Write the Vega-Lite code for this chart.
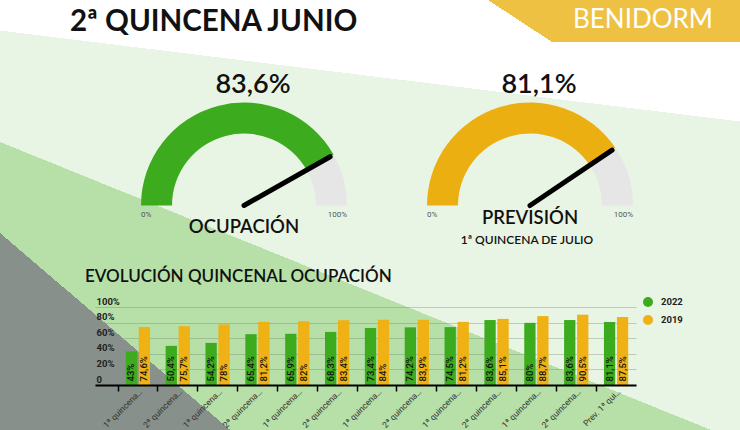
{
  "$schema": "https://vega.github.io/schema/vega-lite/v6.json",
  "padding": 0,
  "spacing": 0,
  "bounds": "flush",
  "background": "#e9f5e4",
  "resolve": {"scale": {"color": "independent", "x": "independent", "y": "independent", "theta": "independent"}, "legend": {"color": "independent"}},
  "config": {
    "view": {"stroke": null},
    "font": "Roboto",
    "locale": {"number": {"decimal": ",", "thousands": ".", "grouping": [3], "currency": ["", " €"]}}
  },
  "datasets": {
    "medidores": [
      {"indicador": "OCUPACIÓN", "valor": 0.836, "subtitulo": ""},
      {"indicador": "PREVISIÓN", "valor": 0.811, "subtitulo": "1ª QUINCENA DE JULIO"}
    ],
    "tramos": [
      {"indicador": "OCUPACIÓN", "tramo": "OCUPACIÓN", "desde": 0, "hasta": 0.836},
      {"indicador": "OCUPACIÓN", "tramo": "resto", "desde": 0.836, "hasta": 1},
      {"indicador": "PREVISIÓN", "tramo": "PREVISIÓN", "desde": 0, "hasta": 0.811},
      {"indicador": "PREVISIÓN", "tramo": "resto", "desde": 0.811, "hasta": 1}
    ],
    "quincenas": [
      {"quincena": "1ª quincena de enero", "serie": "2022", "ocupacion": 0.43},
      {"quincena": "1ª quincena de enero", "serie": "2019", "ocupacion": 0.746},
      {"quincena": "2ª quincena de enero", "serie": "2022", "ocupacion": 0.504},
      {"quincena": "2ª quincena de enero", "serie": "2019", "ocupacion": 0.757},
      {"quincena": "1ª quincena de febrero", "serie": "2022", "ocupacion": 0.542},
      {"quincena": "1ª quincena de febrero", "serie": "2019", "ocupacion": 0.78},
      {"quincena": "2ª quincena de febrero", "serie": "2022", "ocupacion": 0.654},
      {"quincena": "2ª quincena de febrero", "serie": "2019", "ocupacion": 0.812},
      {"quincena": "1ª quincena de marzo", "serie": "2022", "ocupacion": 0.659},
      {"quincena": "1ª quincena de marzo", "serie": "2019", "ocupacion": 0.82},
      {"quincena": "2ª quincena de marzo", "serie": "2022", "ocupacion": 0.683},
      {"quincena": "2ª quincena de marzo", "serie": "2019", "ocupacion": 0.834},
      {"quincena": "1ª quincena de abril", "serie": "2022", "ocupacion": 0.734},
      {"quincena": "1ª quincena de abril", "serie": "2019", "ocupacion": 0.84},
      {"quincena": "2ª quincena de abril", "serie": "2022", "ocupacion": 0.742},
      {"quincena": "2ª quincena de abril", "serie": "2019", "ocupacion": 0.839},
      {"quincena": "1ª quincena de mayo", "serie": "2022", "ocupacion": 0.745},
      {"quincena": "1ª quincena de mayo", "serie": "2019", "ocupacion": 0.812},
      {"quincena": "2ª quincena de mayo", "serie": "2022", "ocupacion": 0.836},
      {"quincena": "2ª quincena de mayo", "serie": "2019", "ocupacion": 0.851},
      {"quincena": "1ª quincena de junio", "serie": "2022", "ocupacion": 0.80},
      {"quincena": "1ª quincena de junio", "serie": "2019", "ocupacion": 0.887},
      {"quincena": "2ª quincena de junio", "serie": "2022", "ocupacion": 0.836},
      {"quincena": "2ª quincena de junio", "serie": "2019", "ocupacion": 0.905},
      {"quincena": "Prev. 1ª quincena de julio", "serie": "2022", "ocupacion": 0.811},
      {"quincena": "Prev. 1ª quincena de julio", "serie": "2019", "ocupacion": 0.875}
    ]
  },
  "vconcat": [
    {
      "width": 740,
      "height": 250,
      "view": {
        "stroke": null,
        "fill": {"gradient": "linear", "x1": 0.682, "y1": -0.196, "x2": 0.318, "y2": 0.804,
          "stops": [{"offset": 0, "color": "#ffffff"}, {"offset": 0.5, "color": "#ffffff"}, {"offset": 0.5, "color": "#e9f5e4"}, {"offset": 1, "color": "#e9f5e4"}]}
      },
      "layer": [
        {
          "data": {"values": [{}]},
          "mark": {"type": "rect", "fill": {"gradient": "linear", "x1": 0.6596, "y1": 0.6276, "x2": -0.0596, "y2": 1.2276,
            "stops": [{"offset": 0, "color": "rgba(182,224,168,0)"}, {"offset": 0.5, "color": "rgba(182,224,168,0)"}, {"offset": 0.5, "color": "#b6e0a8"}, {"offset": 1, "color": "#b6e0a8"}]}},
          "encoding": {}
        },
        {
          "data": {"values": [{}]},
          "mark": {"type": "rect", "fill": {"gradient": "linear", "x1": 0.2734, "y1": 0.8827, "x2": -0.2334, "y2": 1.0827,
            "stops": [{"offset": 0, "color": "rgba(135,144,138,0)"}, {"offset": 0.5, "color": "rgba(135,144,138,0)"}, {"offset": 0.5, "color": "#87908a"}, {"offset": 1, "color": "#87908a"}]}},
          "encoding": {}
        },
        {
          "data": {"values": [{}]},
          "mark": {"type": "rect", "x": 488, "x2": 740, "y": 0, "y2": 42, "fill": {"gradient": "linear", "x1": 0.027, "y1": 0.5254, "x2": 0.227, "y2": 0.4746,
            "stops": [{"offset": 0, "color": "rgba(239,193,67,0)"}, {"offset": 0.5, "color": "rgba(239,193,67,0)"}, {"offset": 0.5, "color": "#efc143"}, {"offset": 1, "color": "#efc143"}]}},
          "encoding": {}
        },
        {
          "data": {"values": [{"t": "2ª QUINCENA JUNIO"}]},
          "mark": {"type": "text", "x": 70, "y": 30.5, "align": "left", "baseline": "alphabetic", "font": "Lato", "fontSize": 29.5, "fontWeight": "bold", "color": "#111111"},
          "encoding": {"text": {"field": "t"}}
        },
        {
          "data": {"values": [{"t": "BENIDORM"}]},
          "mark": {"type": "text", "x": 573, "y": 28, "align": "left", "baseline": "alphabetic", "font": "Lato", "fontSize": 26, "fontWeight": "normal", "color": "#ffffff"},
          "encoding": {"text": {"field": "t"}}
        },
        {
          "data": {"name": "tramos"},
          "mark": {"type": "arc", "y": 205.5, "radius": 103, "radius2": 72},
          "encoding": {
            "x": {"field": "indicador", "type": "nominal", "scale": {"type": "point", "domain": ["OCUPACIÓN", "PREVISIÓN"], "range": [244, 530], "padding": 0}, "axis": null},
            "theta": {"field": "desde", "type": "quantitative", "scale": {"domain": [0, 1], "range": [-1.5708, 1.5708]}, "stack": null},
            "theta2": {"field": "hasta"},
            "color": {"field": "tramo", "type": "nominal", "scale": {"domain": ["OCUPACIÓN", "PREVISIÓN", "resto"], "range": ["#3cab1e", "#ebaf12", "#e6e6e6"]}, "legend": null}
          }
        },
        {
          "data": {"name": "medidores"},
          "mark": {"type": "arc", "y": 205.5, "radius": 99, "radius2": 0, "fill": null, "stroke": "#000000", "strokeWidth": 5, "strokeCap": "round", "strokeJoin": "round"},
          "encoding": {
            "x": {"field": "indicador", "type": "nominal"},
            "theta": {"field": "valor", "type": "quantitative", "stack": null},
            "theta2": {"field": "valor"}
          }
        },
        {
          "data": {"name": "medidores"},
          "mark": {"type": "text", "y": 93, "baseline": "alphabetic", "font": "Lato", "fontSize": 27, "fontWeight": 600, "dx": 9, "color": "#111111"},
          "encoding": {
            "x": {"field": "indicador", "type": "nominal"},
            "text": {"field": "valor", "type": "quantitative", "format": ".1~%"}
          }
        },
        {
          "data": {"name": "medidores"},
          "mark": {"type": "text", "text": "0%", "y": 215, "dx": -103, "align": "left", "baseline": "middle", "fontSize": 8, "color": "#555555"},
          "encoding": {"x": {"field": "indicador", "type": "nominal"}}
        },
        {
          "data": {"name": "medidores"},
          "mark": {"type": "text", "text": "100%", "y": 215, "dx": 103, "align": "right", "baseline": "middle", "fontSize": 8, "color": "#555555"},
          "encoding": {"x": {"field": "indicador", "type": "nominal"}}
        },
        {
          "data": {"name": "medidores"},
          "transform": [{"filter": "datum.indicador == 'OCUPACIÓN'"}],
          "mark": {"type": "text", "y": 233, "baseline": "alphabetic", "font": "Lato", "fontSize": 18.5, "fontWeight": 600, "color": "#111111"},
          "encoding": {"x": {"field": "indicador", "type": "nominal"}, "text": {"field": "indicador"}}
        },
        {
          "data": {"name": "medidores"},
          "transform": [{"filter": "datum.indicador == 'PREVISIÓN'"}],
          "mark": {"type": "text", "y": 224, "baseline": "alphabetic", "font": "Lato", "fontSize": 18.5, "fontWeight": 600, "color": "#111111"},
          "encoding": {"x": {"field": "indicador", "type": "nominal"}, "text": {"field": "indicador"}}
        },
        {
          "data": {"name": "medidores"},
          "transform": [{"filter": "datum.indicador == 'PREVISIÓN'"}],
          "mark": {"type": "text", "y": 244, "dx": -3, "baseline": "alphabetic", "font": "Lato", "fontSize": 12, "fontWeight": 600, "color": "#111111"},
          "encoding": {"x": {"field": "indicador", "type": "nominal"}, "text": {"field": "subtitulo"}}
        }
      ]
    },
    {
      "width": 740,
      "height": 180,
      "view": {
        "stroke": null,
        "fill": {"gradient": "linear", "x1": 1.0995, "y1": 0.099, "x2": 0.1005, "y2": 0.699,
          "stops": [{"offset": 0, "color": "#e9f5e4"}, {"offset": 0.5, "color": "#e9f5e4"}, {"offset": 0.5, "color": "#b6e0a8"}, {"offset": 1, "color": "#b6e0a8"}]}
      },
      "resolve": {"axis": {"x": "independent", "y": "independent"}},
      "layer": [
        {
          "data": {"values": [{}]},
          "mark": {"type": "rect", "fill": {"gradient": "linear", "x1": 0.4519, "y1": 0.1575, "x2": -0.2519, "y2": 0.3575,
            "stops": [{"offset": 0, "color": "rgba(135,144,138,0)"}, {"offset": 0.5, "color": "rgba(135,144,138,0)"}, {"offset": 0.5, "color": "#87908a"}, {"offset": 1, "color": "#87908a"}]}},
          "encoding": {}
        },
        {
          "data": {"values": [{"t": "EVOLUCIÓN QUINCENAL OCUPACIÓN"}]},
          "mark": {"type": "text", "x": 85, "y": 31.7, "align": "left", "baseline": "alphabetic", "font": "Lato", "fontSize": 17, "fontWeight": 600, "color": "#111111"},
          "encoding": {"text": {"field": "t"}}
        },
        {
          "data": {"name": "quincenas"},
          "mark": {"type": "bar"},
          "encoding": {
            "x": {"field": "quincena", "type": "nominal", "sort": null,
              "scale": {"range": [95, 636], "paddingInner": 0, "paddingOuter": 0.2887, "align": 1},
              "axis": {"orient": "bottom", "offset": -45, "labels": false, "ticks": true, "tickSize": 6, "tickWidth": 1.5, "tickColor": "#000000", "domain": true, "domainColor": "#000000", "domainWidth": 2, "bandPosition": 0, "grid": false, "title": null, "zindex": 1}},
            "xOffset": {"field": "serie", "type": "nominal", "scale": {"domain": ["2022", "2019"], "paddingInner": 0.13, "paddingOuter": 0.6}},
            "y": {"field": "ocupacion", "type": "quantitative",
              "scale": {"domain": [0, 1], "range": [135, 57.3]},
              "axis": {"orient": "left", "values": [0, 0.2, 0.4, 0.6, 0.8, 1], "labels": false, "ticks": false, "domain": false, "grid": true, "gridColor": "#5d6d5a", "gridOpacity": 0.3, "gridWidth": 1, "title": null, "zindex": 0}},
            "color": {"field": "serie", "type": "nominal", "scale": {"domain": ["2022", "2019"], "range": ["#3cab1e", "#efb113"]},
              "legend": {"orient": "none", "legendX": 643, "legendY": 47, "title": null, "symbolType": "circle", "symbolSize": 100, "symbolStrokeWidth": 0, "labelFont": "Roboto", "labelFontSize": 9.5, "labelFontWeight": "bold", "labelColor": "#222222", "rowPadding": 8, "labelOffset": 8, "padding": 0}}
          }
        },
        {
          "data": {"name": "quincenas"},
          "mark": {"type": "text", "angle": 270, "align": "left", "baseline": "middle", "dx": 3.5, "font": "Roboto", "fontSize": 9.5, "fontWeight": 500, "color": "#111111"},
          "encoding": {
            "x": {"field": "quincena", "type": "nominal", "sort": null,
              "axis": {"orient": "bottom", "offset": -45, "labelAngle": -45, "labelLimit": 52, "labelFont": "Roboto", "labelFontSize": 8.5, "labelColor": "#333333", "labelPadding": 2, "ticks": false, "domain": false, "grid": false, "title": null, "zindex": 1}},
            "xOffset": {"field": "serie", "type": "nominal"},
            "y": {"datum": 0, "type": "quantitative",
              "axis": {"orient": "left", "offset": -95, "values": [0, 0.2, 0.4, 0.6, 0.8, 1], "labelExpr": "datum.value == 0 ? '0' : format(datum.value, '.0%')", "labelAlign": "left", "labelBaseline": "alphabetic", "labelPadding": -1, "labelOffset": -3, "labelFont": "Roboto", "labelFontSize": 9.5, "labelFontWeight": "bold", "labelColor": "#222222", "ticks": false, "domain": false, "grid": false, "title": null, "zindex": 1}},
            "text": {"field": "ocupacion", "type": "quantitative", "format": ".1~%"}
          }
        }
      ]
    }
  ]
}
